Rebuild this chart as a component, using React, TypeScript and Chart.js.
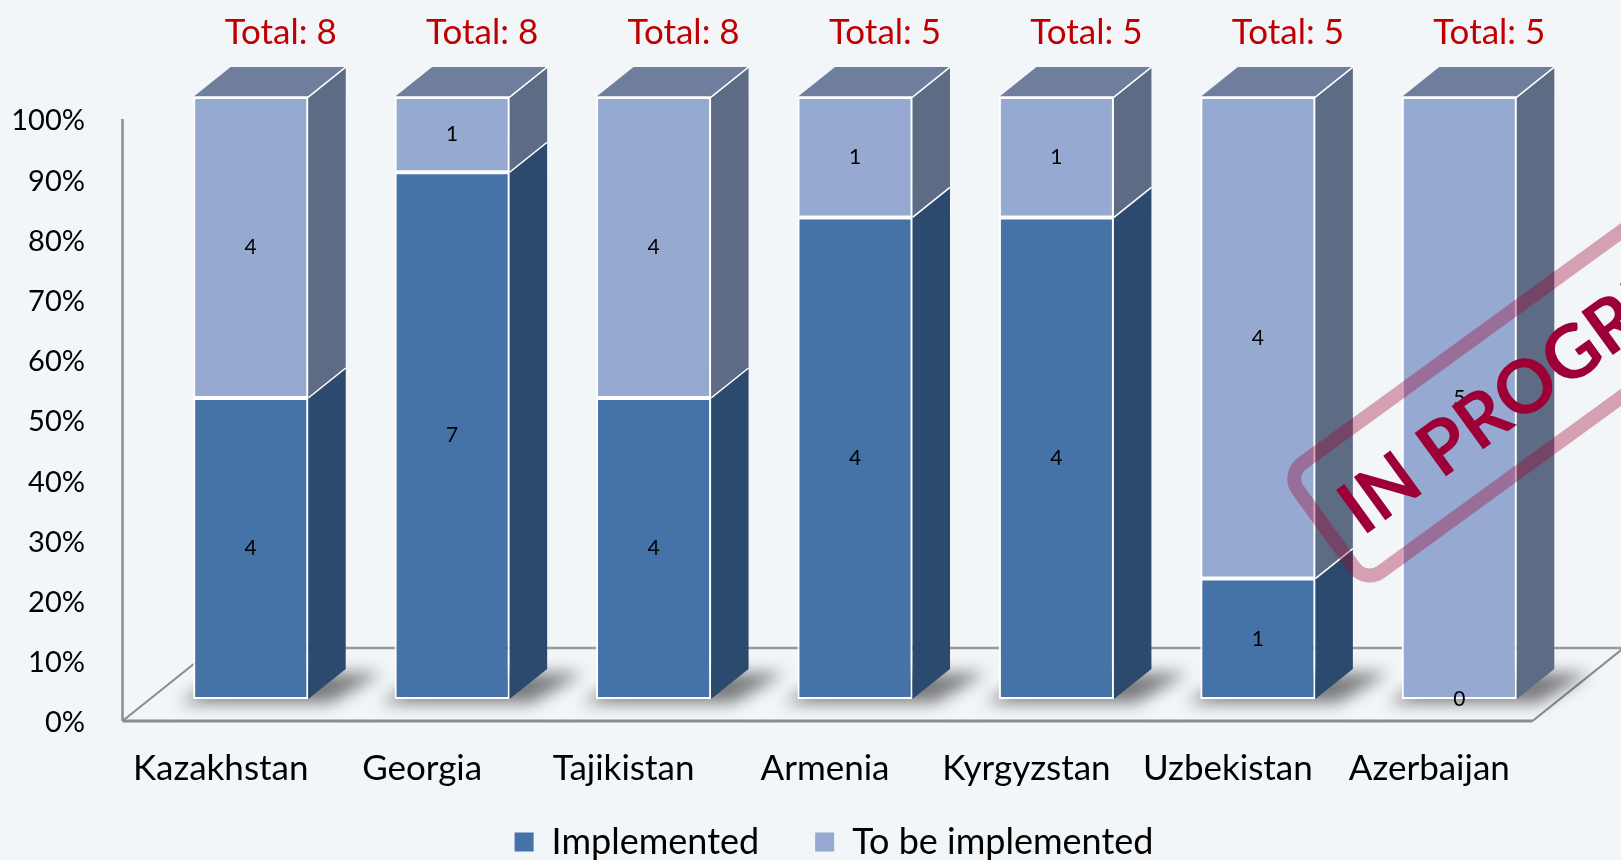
import React, { useEffect, useRef } from "react";
import { Chart, registerables } from "chart.js";

Chart.register(...registerables);

// ---------- data ----------
const categories = ["Kazakhstan", "Georgia", "Tajikistan", "Armenia", "Kyrgyzstan", "Uzbekistan", "Azerbaijan"];
const seriesNames = ["Implemented", "To be implemented"];
const implemented = [4, 7, 4, 4, 4, 1, 0];
const toBeImplemented = [4, 1, 4, 1, 1, 4, 5];
const totals = [8, 8, 8, 5, 5, 5, 5];
const stampText = "IN PROGRESS";

// ---------- styles ----------
const BG = "#F3F6F9";
const FRONT = ["#4572A7", "#95A9D1"];
const SIDE = ["#2C4A6E", "#5D6B84"];
const TOP = ["#35587F", "#6F7E9C"];
const FONT = "Lato, 'Open Sans', sans-serif";
const DX = 37.5;
const DY = 30;
const FLOOR_FRONT = 22;
const FLOOR_BACK = 51;

const counts = [implemented, toBeImplemented];
const pct = counts.map((arr) => arr.map((v, j) => (v / (implemented[j] + toBeImplemented[j])) * 100));

function elProps(el: any) {
  return el.getProps(["x", "y", "base", "width"], true);
}

const threeD = {
  id: "threeD",
  beforeLayout(chart: any) {
    const lg = chart.legend;
    if (lg && !lg._patched) {
      const orig = lg.fit.bind(lg);
      lg.fit = function () {
        orig();
        this.height = 70;
      };
      lg._patched = true;
    }
  },
  afterLayout(chart: any) {
    const lg = chart.legend;
    const ca = chart.chartArea;
    if (lg) {
      lg.left = 108;
      lg.right = ca.right;
      lg.width = lg.right - lg.left;
      lg.top = chart.height - 92;
      lg.bottom = chart.height;
      lg.height = 92;
    }
  },
  beforeDatasetsDraw(chart: any) {
    const { ctx, chartArea: ca, scales } = chart;
    const k = DX / DY;
    const fl = { x: ca.left - FLOOR_FRONT * k, y: ca.bottom + FLOOR_FRONT };
    const fr = { x: ca.right - FLOOR_FRONT * k, y: ca.bottom + FLOOR_FRONT };
    const bl = { x: ca.left + FLOOR_BACK * k, y: ca.bottom - FLOOR_BACK };
    const br = { x: ca.right + FLOOR_BACK * k, y: ca.bottom - FLOOR_BACK };
    ctx.save();
    ctx.lineCap = "butt";
    ctx.strokeStyle = "#9a9a9a";
    ctx.lineWidth = 2.5;
    ctx.beginPath();
    ctx.moveTo(bl.x, bl.y);
    ctx.lineTo(br.x, br.y);
    ctx.stroke();
    ctx.strokeStyle = "#8c8c8c";
    ctx.lineWidth = 2.2;
    ctx.beginPath();
    ctx.moveTo(bl.x, bl.y);
    ctx.lineTo(fl.x, fl.y);
    ctx.stroke();
    ctx.beginPath();
    ctx.moveTo(fr.x, fr.y);
    ctx.lineTo(br.x, br.y);
    ctx.stroke();
    ctx.lineWidth = 3;
    ctx.beginPath();
    ctx.moveTo(fl.x, fl.y);
    ctx.lineTo(fr.x, fr.y);
    ctx.stroke();
    ctx.lineWidth = 2.5;
    ctx.beginPath();
    ctx.moveTo(fl.x, scales.y.getPixelForValue(100) + FLOOR_FRONT);
    ctx.lineTo(fl.x, fl.y);
    ctx.stroke();

    // floor shadows (only the shadow of an off-canvas shape is painted)
    const OFF = 5000;
    const meta = chart.getDatasetMeta(0);
    meta.data.forEach((el: any) => {
      const { x, width } = elProps(el);
      const b = scales.y.getPixelForValue(0);
      const x1 = x - width / 2;
      const x2 = x + width / 2;
      ctx.save();
      ctx.shadowColor = "rgba(0,0,0,0.5)";
      ctx.shadowBlur = 16;
      ctx.shadowOffsetX = OFF;
      ctx.shadowOffsetY = 0;
      ctx.fillStyle = "#000";
      ctx.beginPath();
      ctx.moveTo(x1 - 14 - OFF, b + 4);
      ctx.lineTo(x2 + 22 - OFF, b + 4);
      ctx.lineTo(x2 + DX + 36 - OFF, b - DY + 4);
      ctx.lineTo(x1 + DX - OFF, b - DY + 4);
      ctx.closePath();
      ctx.fill();
      ctx.restore();
    });
    ctx.restore();
  },
  afterDatasetsDraw(chart: any) {
    const { ctx } = chart;
    const nDs = chart.data.datasets.length;
    ctx.save();
    for (let j = 0; j < categories.length; j++) {
      let topY = Infinity;
      let topIdx = -1;
      let topEl: any = null;
      for (let i = 0; i < nDs; i++) {
        const p = elProps(chart.getDatasetMeta(i).data[j]);
        const t = Math.min(p.y, p.base);
        const bt = Math.max(p.y, p.base);
        const x2 = p.x + p.width / 2;
        if (bt - t > 0.5) {
          ctx.fillStyle = SIDE[i];
          ctx.beginPath();
          ctx.moveTo(x2, t);
          ctx.lineTo(x2 + DX, t - DY);
          ctx.lineTo(x2 + DX, bt - DY);
          ctx.lineTo(x2, bt);
          ctx.closePath();
          ctx.fill();
          if (t < topY) {
            topY = t;
            topIdx = i;
            topEl = p;
          }
        }
      }
      for (let i = 0; i < nDs; i++) {
        const p = elProps(chart.getDatasetMeta(i).data[j]);
        const t = Math.min(p.y, p.base);
        const bt = Math.max(p.y, p.base);
        if (bt - t > 0.5) {
          const x2 = p.x + p.width / 2;
          ctx.strokeStyle = "#ffffff";
          ctx.lineWidth = 1.6;
          ctx.beginPath();
          ctx.moveTo(x2, t);
          ctx.lineTo(x2 + DX, t - DY);
          ctx.stroke();
        }
      }
      if (topEl) {
        const x1 = topEl.x - topEl.width / 2;
        const x2 = topEl.x + topEl.width / 2;
        ctx.fillStyle = TOP[topIdx];
        ctx.beginPath();
        ctx.moveTo(x1, topY);
        ctx.lineTo(x1 + DX, topY - DY);
        ctx.lineTo(x2 + DX, topY - DY);
        ctx.lineTo(x2, topY);
        ctx.closePath();
        ctx.fill();
        ctx.strokeStyle = "#ffffff";
        ctx.lineWidth = 1.6;
        ctx.beginPath();
        ctx.moveTo(x1, topY);
        ctx.lineTo(x2, topY);
        ctx.lineTo(x2 + DX, topY - DY);
        ctx.stroke();
      }
    }

    // value labels
    ctx.fillStyle = "#000";
    ctx.font = `21px ${FONT}`;
    ctx.textAlign = "center";
    ctx.textBaseline = "middle";
    for (let i = 0; i < nDs; i++) {
      chart.getDatasetMeta(i).data.forEach((el: any, j: number) => {
        const p = elProps(el);
        ctx.fillText(String(counts[i][j]), p.x, (p.y + p.base) / 2);
      });
    }

    // totals
    const yTop = chart.scales.y.getPixelForValue(100);
    ctx.fillStyle = "#C00000";
    ctx.font = `35px ${FONT}`;
    chart.getDatasetMeta(0).data.forEach((el: any, j: number) => {
      const p = elProps(el);
      ctx.fillText(`Total: ${totals[j]}`, p.x + 30, yTop - 64);
    });
    ctx.restore();
  },
  afterDraw(chart: any) {
    const { ctx, chartArea: ca } = chart;
    ctx.save();
    ctx.translate(ca.right - 194.5, ca.bottom - 116);
    ctx.rotate((-36 * Math.PI) / 180);
    ctx.strokeStyle = "rgba(160,0,48,0.35)";
    ctx.lineWidth = 14;
    ctx.beginPath();
    (ctx as any).roundRect(0, -134, 600, 134, 19);
    ctx.stroke();
    ctx.fillStyle = "#9C0036";
    ctx.font = `bold 74px ${FONT}`;
    ctx.textAlign = "left";
    ctx.textBaseline = "alphabetic";
    ctx.fillText(stampText, 25, -39);
    ctx.restore();
  },
};

export default function App() {
  const ref = useRef<HTMLCanvasElement | null>(null);
  useEffect(() => {
    if (!ref.current) return;
    Chart.defaults.font.family = FONT;
    Chart.defaults.color = "#000";
    const chart = new Chart(ref.current, {
      type: "bar",
      data: {
        labels: categories,
        datasets: seriesNames.map((name, i) => ({
          label: name,
          data: pct[i],
          backgroundColor: FRONT[i],
          borderColor: "#ffffff",
          borderWidth: 2,
          borderSkipped: false,
          barPercentage: 0.571,
          categoryPercentage: 1,
        })),
      },
      options: {
        responsive: true,
        maintainAspectRatio: false,
        animation: false,
        devicePixelRatio: 1,
        layout: { padding: { left: 0, right: 61, top: 97, bottom: 0 } },
        scales: {
          x: {
            stacked: true,
            grid: { display: false, drawTicks: false },
            border: { display: false },
            ticks: {
              font: { size: 35, family: FONT },
              color: "#000",
              padding: 49,
              labelOffset: -30,
              maxRotation: 0,
              autoSkip: false,
            },
            afterFit: (s: any) => {
              s.height = 91;
            },
          },
          y: {
            stacked: true,
            min: 0,
            max: 100,
            grid: { display: false, drawTicks: false },
            border: { display: false },
            ticks: {
              stepSize: 10,
              font: { size: 29, family: FONT },
              color: "#000",
              padding: 65,
              labelOffset: 24,
              callback: (v: any) => `${v}%`,
            },
            afterFit: (s: any) => {
              s.width = 150;
            },
          },
        },
        plugins: {
          tooltip: { enabled: false },
          legend: {
            position: "bottom",
            labels: {
              font: { size: 36, family: FONT },
              color: "#000",
              padding: 56,
              boxWidth: 19,
              boxHeight: 19,
              generateLabels: (c: any) =>
                Chart.defaults.plugins.legend.labels.generateLabels(c).map((l: any) => ({ ...l, lineWidth: 0 })),
            },
          },
        },
      },
      plugins: [threeD],
    });
    return () => chart.destroy();
  }, []);
  return (
    <div style={{ position: "fixed", left: 0, top: 0, width: 1621, height: 860, background: BG }}>
      <canvas ref={ref} />
    </div>
  );
}
